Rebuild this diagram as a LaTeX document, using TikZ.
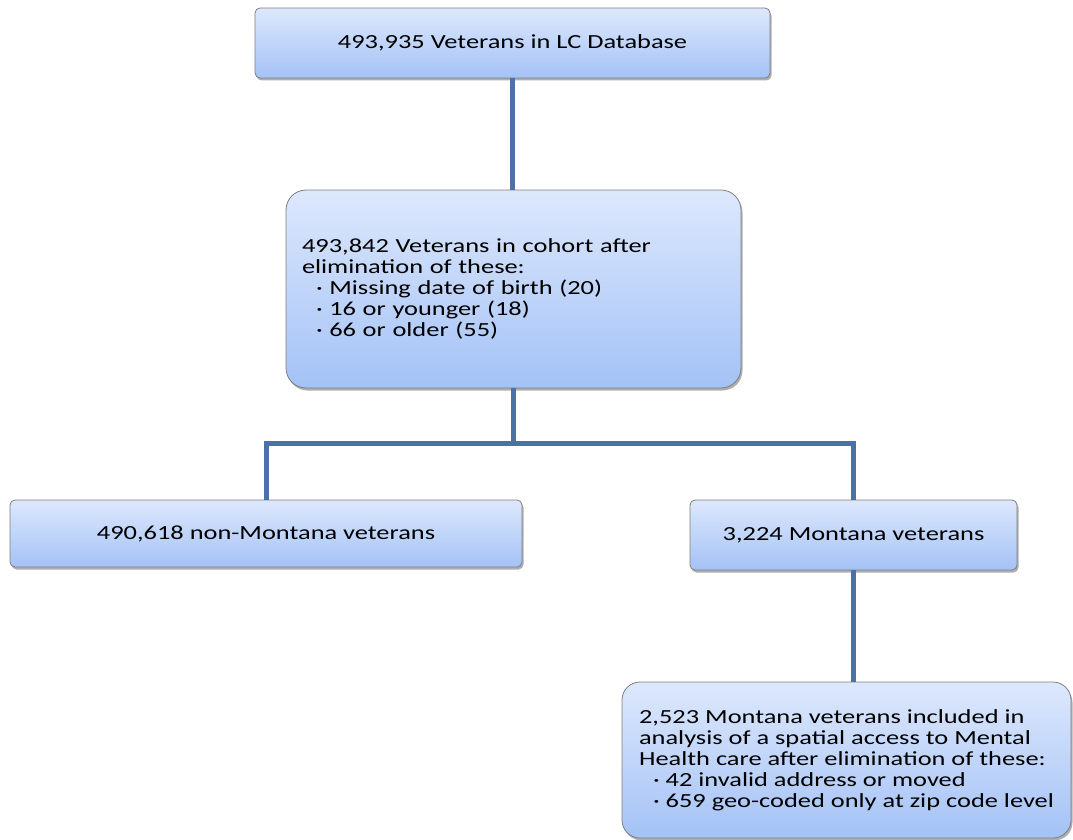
\documentclass[tikz,border=0pt]{standalone}
\usepackage{fontspec}
\setmainfont[FakeStretch=1.32]{Carlito}
\usetikzlibrary{shadows}
\definecolor{boxtop}{HTML}{DDE8FC}
\definecolor{boxbot}{HTML}{A4C2F6}
\definecolor{boxline}{HTML}{7F7F7F}
\definecolor{linkblue}{HTML}{4C71A6}
\begin{document}
\begin{tikzpicture}[x=1pt,y=-1pt,
   every node/.style={draw=boxline, line width=0.8pt, top color=boxtop, bottom color=boxbot,
       drop shadow={shadow xshift=1.5pt, shadow yshift=-2.5pt, opacity=0.45, fill=black!70},
       font=\fontsize{20}{21}\selectfont, inner sep=0pt},
   listbox/.style={align=left, text width=#1},
   link/.style={draw=linkblue, line width=5pt}]
\useasboundingbox (0,0) rectangle (1073,840);

\node[rounded corners=5pt, minimum width=515pt, minimum height=70pt] (db) at (512.5,43)
    {493,935 Veterans in LC Database};
\node[rounded corners=20pt, minimum width=455pt, minimum height=198pt, listbox=423pt] (cohort) at (513.5,289)
    {493,842 Veterans in cohort after\\ elimination of these:\\
     \hspace*{14pt}· Missing date of birth (20)\\
     \hspace*{14pt}· 16 or younger (18)\\
     \hspace*{14pt}· 66 or older (55)};
\node[rounded corners=5pt, minimum width=512pt, minimum height=67pt] (nonmt) at (266,533.5)
    {490,618 non-Montana veterans};
\node[rounded corners=5pt, minimum width=327pt, minimum height=70pt] (mt) at (853.5,535)
    {3,224 Montana veterans};
\node[rounded corners=18pt, minimum width=449pt, minimum height=156pt, align=left] (mhcare) at (846.5,760)
    {2,523 Montana veterans included in\\ analysis of a spatial access to Mental\\
     Health care after elimination of these:\\
     \hspace*{14pt}· 42 invalid address or moved\\
     \hspace*{14pt}· 659 geo-coded only at zip code level};

\coordinate (split) at (513.5,443);
\draw[link] (db.south) -- (db.south |- cohort.north);
\draw[link] (cohort.south) -- (split);
\draw[link] (nonmt.north) |- (split) -| (mt.north);
\draw[link] (mt.south) -- (mt.south |- mhcare.north);

\end{tikzpicture}
\end{document}
